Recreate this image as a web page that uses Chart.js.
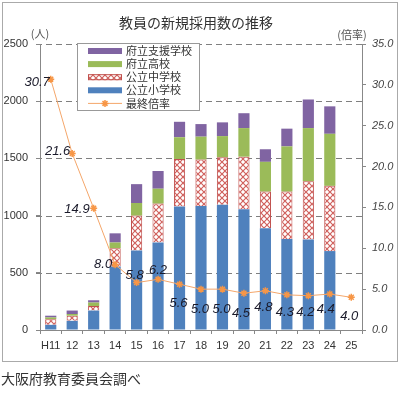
<!DOCTYPE html>
<html><head><meta charset="utf-8">
<script src="https://cdn.jsdelivr.net/npm/chart.js@4/dist/chart.umd.min.js"></script>
<style>html,body{margin:0;padding:0;background:#fff;}#wrap{position:relative;width:400px;height:393px;}
#gridlayer{position:absolute;left:0;top:0;width:400px;height:393px;z-index:0;}
#c{position:absolute;left:0;top:0;display:block;z-index:1;background:transparent;}
.gl{position:absolute;height:1px;background-image:repeating-linear-gradient(to right,#7f7f7f 0px,#7f7f7f 6px,rgba(0,0,0,0) 6px,rgba(0,0,0,0) 10px);}
</style>
</head><body><div id="wrap"><div id="gridlayer"></div><canvas id="c" width="400" height="393"></canvas></div>
<script>
const categories = ['H11','12','13','14','15','16','17','18','19','20','21','22','23','24','25'];
const elementary = [45,80,170,555,695,765,1080,1085,1095,1055,890,795,790,690,null];
const junior     = [50,45,40,160,305,340,415,405,415,460,320,415,510,570,null];
const highSchool = [15,15,30,50,110,130,190,200,185,250,260,395,465,455,null];
const support    = [15,30,20,80,165,155,135,110,120,130,110,155,250,240,null];
const finalRatio = [30.7,21.6,14.9,8.0,5.8,6.2,5.6,5.0,5.0,4.5,4.8,4.3,4.2,4.4,4.0];
const seriesNames = ['最終倍率','公立小学校','公立中学校','府立高校','府立支援学校'];
const leftAxisMax = 2500, leftAxisStep = 500;
const rightAxisMax = 35, rightAxisStep = 5;
const titleText = '教員の新規採用数の推移';
const sourceText = '大阪府教育委員会調べ';
const leftUnit = '(人)', rightUnit = '(倍率)';

// label offsets (styling): [dx, dy, align]
const labelOffsets = [[-1,3,'right'],[-2,-2,'right'],[-4,1,'right'],[-3,0,'right'],[-2,-7,'center'],[0,-9,'center'],
  [-1,19,'center'],[-1,20,'center'],[-1,20,'center'],[-3,20,'center'],[-2,17,'center'],[-2,18,'center'],[-3,17,'center'],[-4,15,'center'],[-2,19,'center']];

const NUM = '"Liberation Sans", Arial, sans-serif';
const JP = '"Noto Sans CJK JP", sans-serif';

function makePattern(){
  const p = document.createElement('canvas'); p.width = 6; p.height = 6;
  const c = p.getContext('2d');
  c.fillStyle = '#ffffff'; c.fillRect(0,0,6,6);
  c.strokeStyle = '#d0605c'; c.lineWidth = 1.2;
  c.beginPath(); c.moveTo(0,0); c.lineTo(6,6); c.moveTo(6,0); c.lineTo(0,6); c.stroke();
  return c.createPattern(p,'repeat');
}
const crossPattern = makePattern();
const colors = {line:'#F4A66A', marker:'#F79646', blue:'#4F81BD', green:'#9BBB59', purple:'#8064A2', red:'#C0504D'};

const framePlugin = {
  id:'frame',
  beforeDraw(chart){
    const ctx = chart.ctx;
    ctx.save();
    ctx.strokeStyle = '#aaaaaa'; ctx.lineWidth = 1;
    ctx.strokeRect(2.5,2.5,395,359);
    ctx.fillStyle = '#333'; ctx.font = '14px ' + JP; ctx.textAlign = 'center'; ctx.textBaseline = 'middle';
    ctx.fillText(titleText, 196, 23);
    ctx.font = '11px ' + JP; ctx.fillStyle = '#555';
    ctx.fillText(leftUnit, 40, 34);
    ctx.fillText(rightUnit, 352, 35);
    ctx.textAlign = 'left'; ctx.fillStyle = '#333'; ctx.font = '14px ' + JP;
    ctx.fillText(sourceText, 1, 379);
    ctx.restore();
  }
};

const labelPlugin = {
  id:'ptlabels',
  afterDatasetsDraw(chart){
    const ctx = chart.ctx;
    const meta = chart.getDatasetMeta(0);
    ctx.save();
    ctx.font = 'italic 13px ' + NUM; ctx.fillStyle = '#1a1a2a'; ctx.textBaseline = 'middle';
    meta.data.forEach((pt,i)=>{
      const o = labelOffsets[i];
      ctx.textAlign = o[2];
      ctx.fillText(finalRatio[i].toFixed(1), pt.x + o[0], pt.y + o[1]);
    });
    ctx.restore();
  }
};

const legendPlugin = {
  id:'boxlegend',
  afterDraw(chart){
    const ctx = chart.ctx;
    ctx.save();
    ctx.fillStyle = '#fff'; ctx.fillRect(77.5,43.5,122,67);
    ctx.strokeStyle = '#999'; ctx.lineWidth = 1; ctx.strokeRect(77.5,43.5,122,67);
    const order = [4,3,2,1,0];
    order.forEach((di,k)=>{
      const ds = chart.data.datasets[di];
      const y = 51 + k*13.1;
      if (ds.type === 'line') {
        ctx.strokeStyle = colors.line; ctx.lineWidth = 1;
        ctx.beginPath(); ctx.moveTo(88,y); ctx.lineTo(122,y); ctx.stroke();
        ctx.strokeStyle = colors.marker; ctx.fillStyle = colors.marker; ctx.lineWidth = 1.5;
        Chart.helpers.drawPoint(ctx, {pointStyle:'star', radius:3.5, borderWidth:1.5}, 105, y);
      } else {
        ctx.fillStyle = ds.backgroundColor; ctx.fillRect(88, y-3, 34, 6);
        if (ds.borderWidth) { ctx.strokeStyle = ds.borderColor; ctx.lineWidth = 1; ctx.strokeRect(88.5, y-2.5, 33, 5); }
      }
      ctx.fillStyle = '#333'; ctx.font = '11px ' + JP; ctx.textAlign = 'left'; ctx.textBaseline = 'middle';
      ctx.fillText(ds.label, 126, y);
    });
    ctx.restore();
  }
};

const chart = new Chart(document.getElementById('c'), {
  type:'bar',
  data:{
    labels: categories,
    datasets:[
      {type:'line', label:seriesNames[0], data:finalRatio, yAxisID:'y1', borderColor:colors.line, borderWidth:1, tension:0,
       pointStyle:'star', pointRadius:3.5, pointBorderColor:colors.marker, pointBackgroundColor:colors.marker, pointBorderWidth:1.5},
      {label:seriesNames[1], data:elementary, backgroundColor:colors.blue, borderWidth:0},
      {label:seriesNames[2], data:junior, backgroundColor:crossPattern, borderColor:colors.red, borderWidth:1},
      {label:seriesNames[3], data:highSchool, backgroundColor:colors.green, borderWidth:0},
      {label:seriesNames[4], data:support, backgroundColor:colors.purple, borderWidth:0}
    ]
  },
  options:{
    responsive:false, animation:false, devicePixelRatio:1,
    layout:{padding:{top:44,left:0,right:0,bottom:0}},
    datasets:{bar:{categoryPercentage:1, barPercentage:0.52}},
    plugins:{legend:{display:false}, title:{display:false}, tooltip:{enabled:false}},
    scales:{
      x:{stacked:true,
         grid:{offset:true, drawOnChartArea:false, drawTicks:true, tickLength:4, color:'#888'},
         border:{color:'#888'},
         ticks:{font:{size:11, family:NUM}, color:'#333', padding:5, autoSkip:false, maxRotation:0},
         afterFit(s){ s.height = 63; }},
      y:{stacked:true, position:'left', min:0, max:leftAxisMax,
         ticks:{stepSize:leftAxisStep, callback:(v)=>String(v), font:{size:11, family:NUM}, color:'#333', padding:8},
         grid:{drawOnChartArea:false, drawTicks:true, color:'#888', tickLength:4},
         border:{color:'#888'},
         afterFit(s){ s.width = 40; }},
      y1:{position:'right', min:0, max:rightAxisMax,
         ticks:{stepSize:rightAxisStep, callback:(v)=>Number(v).toFixed(1), font:{size:11, family:NUM, style:'italic'}, color:'#444', padding:6},
         grid:{drawOnChartArea:false, tickLength:4, color:'#888'},
         border:{color:'#888'},
         afterFit(s){ s.width = 38; }}
    }
  },
  plugins:[framePlugin, labelPlugin, legendPlugin]
});

// dashed gridlines placed behind the (transparent) canvas, positioned with the chart's own y scale
(function(){
  const layer = document.getElementById('gridlayer');
  const s = chart.scales.y, a = chart.chartArea;
  s.ticks.forEach(tk=>{
    if (tk.value <= 0) return;
    const y = Math.round(s.getPixelForValue(tk.value));
    const d = document.createElement('div');
    d.className = 'gl';
    d.style.left = (a.left - 4) + 'px';
    d.style.top = y + 'px';
    d.style.width = (a.right - a.left + 4) + 'px';
    layer.appendChild(d);
  });
})();
</script></body></html>
